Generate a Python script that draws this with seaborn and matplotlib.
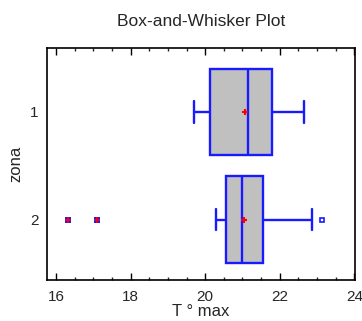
import numpy as np
import pandas as pd
import seaborn as sns
import matplotlib
matplotlib.use("Agg")
import matplotlib.pyplot as plt
from matplotlib.ticker import MultipleLocator

# values
zona_1 = [19.70, 20.14, 21.15, 21.78, 22.64]
zona_2 = [16.33, 17.10, 20.30, 20.55, 20.70, 20.85, 20.99,
          21.15, 21.35, 21.56, 22.10, 22.86, 23.13]
zonas = ["1", "2"]
means = [21.08, 21.05]

df = pd.DataFrame({
    "tmax": zona_1 + zona_2,
    "zona": ["1"] * len(zona_1) + ["2"] * len(zona_2),
})

sns.set_theme(style="white")
plt.rcParams["font.family"] = ["Liberation Sans", "DejaVu Sans"]

fig = plt.figure(figsize=(3.62, 3.21), dpi=100)
ax = fig.add_axes([0.130, 0.128, 0.851, 0.722])

blue = "#1a1aff"
sns.boxplot(data=df, x="tmax", y="zona", order=zonas, orient="h", ax=ax,
            width=0.8, color="#c0c0c0", whis=1.5, linewidth=1.7,
            capwidths=0.2,
            boxprops=dict(edgecolor=blue, facecolor="#c0c0c0"),
            medianprops=dict(color=blue),
            whiskerprops=dict(color=blue),
            capprops=dict(color=blue),
            flierprops=dict(marker="s", markersize=3, markerfacecolor="none",
                            markeredgecolor=blue, markeredgewidth=1.2))

# far outliers (beyond 3 IQR) get a filled blue mark with a red plus
far_x, far_y = [], []
for z in zonas:
    v = np.array(df.loc[df.zona == z, "tmax"])
    q1, q3 = np.percentile(v, [25, 75])
    iqr = q3 - q1
    out = v[(v < q1 - 3 * iqr) | (v > q3 + 3 * iqr)]
    far_x += list(out)
    far_y += [zonas.index(z)] * len(out)
if far_x:
    ax.scatter(far_x, far_y, marker="s", s=14, color=blue, zorder=5, linewidths=0)
    ax.scatter(far_x, far_y, marker="+", s=18, color="red", zorder=6, linewidths=1.2)

# means
ax.scatter(means, [0, 1], marker="+", s=18, color="red", zorder=6, linewidths=1.5)

ax.set_xlim(15.76, 24.02)
ax.set_ylim(1.56, -0.59)
ax.xaxis.set_major_locator(MultipleLocator(2))
ax.xaxis.set_minor_locator(MultipleLocator(0.5))
ax.tick_params(axis="x", which="major", direction="in", length=5, width=1,
               top=True, bottom=True, labelsize=11, color="black", pad=7)
ax.tick_params(axis="x", which="minor", direction="in", length=2.5, width=1,
               top=True, bottom=True)
ax.tick_params(axis="y", length=0, labelsize=11, pad=6)
for s in ax.spines.values():
    s.set_color("black")
    s.set_linewidth(1.2)

ax.set_xlabel("T ° max", fontsize=12, labelpad=0)
ax.set_ylabel("zona", fontsize=12, labelpad=5)
ax.set_title("Box-and-Whisker Plot", fontsize=12.5, pad=16)

fig.savefig("out.png", dpi=100)
